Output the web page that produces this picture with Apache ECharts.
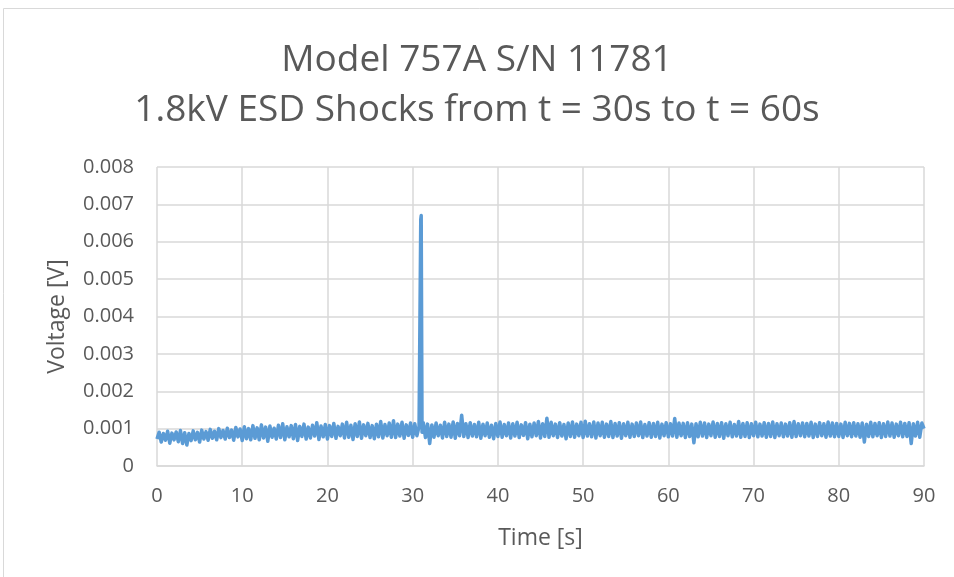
<!DOCTYPE html>
<html>
<head>
<meta charset="utf-8">
<title>Model 757A S/N 11781</title>
<script src="https://cdn.jsdelivr.net/npm/echarts@6/dist/echarts.min.js"></script>
<style>
    html, body {margin: 0; padding: 0; background: #fff;}
    #main {width: 954px; height: 577px;}
</style>
</head>
<body>
<div id="main"></div>
<script>
/* 标题和坐标轴 */
var titleLines = ['Model 757A S/N 11781', '1.8kV ESD Shocks from t = 30s to t = 60s'];
var xName = 'Time [s]';
var yName = 'Voltage [V]';
var xTicks = [0, 10, 20, 30, 40, 50, 60, 70, 80, 90];
var yTicks = [0, 0.001, 0.002, 0.003, 0.004, 0.005, 0.006, 0.007, 0.008];

/* 采样时间 (s)，每行 2 秒 */
var time = [
    0, 0.25, 0.5, 0.75, 1, 1.25, 1.5, 1.75,
    2, 2.25, 2.5, 2.75, 3, 3.25, 3.5, 3.75,
    4, 4.25, 4.5, 4.75, 5, 5.25, 5.5, 5.75,
    6, 6.25, 6.5, 6.75, 7, 7.25, 7.5, 7.75,
    8, 8.25, 8.5, 8.75, 9, 9.25, 9.5, 9.75,
    10, 10.25, 10.5, 10.75, 11, 11.25, 11.5, 11.75,
    12, 12.25, 12.5, 12.75, 13, 13.25, 13.5, 13.75,
    14, 14.25, 14.5, 14.75, 15, 15.25, 15.5, 15.75,
    16, 16.25, 16.5, 16.75, 17, 17.25, 17.5, 17.75,
    18, 18.25, 18.5, 18.75, 19, 19.25, 19.5, 19.75,
    20, 20.25, 20.5, 20.75, 21, 21.25, 21.5, 21.75,
    22, 22.25, 22.5, 22.75, 23, 23.25, 23.5, 23.75,
    24, 24.25, 24.5, 24.75, 25, 25.25, 25.5, 25.75,
    26, 26.25, 26.5, 26.75, 27, 27.25, 27.5, 27.75,
    28, 28.25, 28.5, 28.75, 29, 29.25, 29.5, 29.75,
    30, 30.25, 30.5, 30.75, 30.95, 31, 31.05, 31.1, 31.25, 31.5, 31.75,
    32, 32.25, 32.5, 32.75, 33, 33.25, 33.5, 33.75,
    34, 34.25, 34.5, 34.75, 35, 35.25, 35.5, 35.75,
    36, 36.25, 36.5, 36.75, 37, 37.25, 37.5, 37.75,
    38, 38.25, 38.5, 38.75, 39, 39.25, 39.5, 39.75,
    40, 40.25, 40.5, 40.75, 41, 41.25, 41.5, 41.75,
    42, 42.25, 42.5, 42.75, 43, 43.25, 43.5, 43.75,
    44, 44.25, 44.5, 44.75, 45, 45.25, 45.5, 45.75,
    46, 46.25, 46.5, 46.75, 47, 47.25, 47.5, 47.75,
    48, 48.25, 48.5, 48.75, 49, 49.25, 49.5, 49.75,
    50, 50.25, 50.5, 50.75, 51, 51.25, 51.5, 51.75,
    52, 52.25, 52.5, 52.75, 53, 53.25, 53.5, 53.75,
    54, 54.25, 54.5, 54.75, 55, 55.25, 55.5, 55.75,
    56, 56.25, 56.5, 56.75, 57, 57.25, 57.5, 57.75,
    58, 58.25, 58.5, 58.75, 59, 59.25, 59.5, 59.75,
    60, 60.25, 60.5, 60.75, 61, 61.25, 61.5, 61.75,
    62, 62.25, 62.5, 62.75, 63, 63.25, 63.5, 63.75,
    64, 64.25, 64.5, 64.75, 65, 65.25, 65.5, 65.75,
    66, 66.25, 66.5, 66.75, 67, 67.25, 67.5, 67.75,
    68, 68.25, 68.5, 68.75, 69, 69.25, 69.5, 69.75,
    70, 70.25, 70.5, 70.75, 71, 71.25, 71.5, 71.75,
    72, 72.25, 72.5, 72.75, 73, 73.25, 73.5, 73.75,
    74, 74.25, 74.5, 74.75, 75, 75.25, 75.5, 75.75,
    76, 76.25, 76.5, 76.75, 77, 77.25, 77.5, 77.75,
    78, 78.25, 78.5, 78.75, 79, 79.25, 79.5, 79.75,
    80, 80.25, 80.5, 80.75, 81, 81.25, 81.5, 81.75,
    82, 82.25, 82.5, 82.75, 83, 83.25, 83.5, 83.75,
    84, 84.25, 84.5, 84.75, 85, 85.25, 85.5, 85.75,
    86, 86.25, 86.5, 86.75, 87, 87.25, 87.5, 87.75,
    88, 88.25, 88.5, 88.75, 89, 89.25, 89.5, 89.75,
    90
];

/* 电压读数 (µV)，与 time 逐行对应 */
var voltageUv = [
    720, 905, 640, 870, 690, 930, 610, 880,
    700, 910, 650, 950, 600, 890, 560, 870,
    680, 940, 700, 900, 640, 960, 720, 920,
    690, 980, 740, 930, 700, 1000, 760, 950,
    720, 1010, 760, 960, 690, 1030, 780, 990,
    680, 1050, 730, 1000, 700, 1080, 740, 1020,
    700, 1100, 750, 1040, 660, 1070, 770, 1010,
    720, 1090, 760, 1130, 700, 1050, 780, 1080,
    730, 1110, 680, 1060, 790, 1120, 720, 1040,
    750, 1090, 800, 1160, 710, 1070, 780, 1110,
    720, 1080, 790, 1140, 740, 1060, 810, 1120,
    750, 1170, 770, 1090, 710, 1130, 790, 1180,
    740, 1100, 810, 1140, 760, 1080, 730, 1120,
    780, 1190, 750, 1110, 810, 1150, 770, 1210,
    760, 1120, 800, 1170, 740, 1100, 820, 1150,
    770, 1130, 810, 1060, 6600, 6700, 6650, 900, 1160, 760, 1120,
    600, 1100, 770, 1150, 810, 1090, 750, 1170,
    790, 1120, 770, 1180, 740, 1140, 810, 1360,
    790, 1130, 760, 1160, 800, 1110, 780, 1170,
    740, 1120, 810, 1150, 770, 1090, 730, 1140,
    790, 1180, 770, 1110, 810, 1150, 750, 1130,
    800, 1170, 760, 1100, 820, 1160, 730, 1120,
    780, 1150, 810, 1190, 750, 1130, 790, 1280,
    770, 1170, 810, 1120, 760, 1160, 800, 1110,
    730, 1150, 790, 1180, 770, 1120, 810, 1170,
    760, 1200, 800, 1130, 780, 1180, 750, 1150,
    810, 1170, 770, 1120, 790, 1190, 760, 1140,
    800, 1160, 740, 1130, 810, 1170, 770, 1120,
    790, 1150, 810, 1180, 760, 1110, 800, 1160,
    770, 1140, 790, 1170, 750, 1120, 810, 1160,
    780, 1130, 800, 1270, 770, 1150, 810, 1140,
    760, 1160, 790, 1120, 620, 1130, 780, 1170,
    800, 1150, 760, 1120, 810, 1180, 770, 1140,
    790, 1160, 740, 1130, 810, 1170, 780, 1110,
    800, 1190, 770, 1140, 790, 1160, 760, 1130,
    810, 1170, 780, 1120, 800, 1160, 770, 1140,
    790, 1180, 760, 1130, 810, 1150, 780, 1120,
    800, 1160, 770, 1190, 790, 1130, 810, 1150,
    780, 1140, 800, 1170, 760, 1120, 790, 1160,
    810, 1130, 770, 1180, 800, 1150, 780, 1140,
    790, 1120, 760, 1170, 810, 1140, 780, 1160,
    800, 1130, 770, 1150, 640, 1120, 790, 1170,
    780, 1140, 810, 1160, 760, 1130, 790, 1180,
    800, 1150, 770, 1120, 810, 1170, 780, 1140,
    790, 1160, 600, 1130, 800, 1170, 770, 1150,
    1000
];

var seriesData = time.map(function (t, i) {
    return [t, voltageUv[i] / 1e6];
});

var fontName = 'Open Sans';
var myChart = echarts.init(document.getElementById('main'));

var option = {
    animation: false,
    backgroundColor: '#fff',
    textStyle: {
        fontFamily: fontName
    },
    title: {
        text: titleLines.join('\n'),
        left: 'center',
        top: 30,
        textStyle: {
            color: '#595959',
            fontWeight: 'normal',
            fontSize: 37,
            lineHeight: 50,
            fontFamily: fontName
        }
    },
    graphic: [
        {
            type: 'rect',
            shape: {x: 3.5, y: 8.5, width: 1000, height: 1000},
            style: {fill: 'none', stroke: '#D9D9D9', lineWidth: 1},
            silent: true
        }
    ],
    grid: {
        left: 157,
        right: 30,
        top: 167,
        bottom: 111
    },
    xAxis: {
        type: 'value',
        min: xTicks[0],
        max: xTicks[xTicks.length - 1],
        interval: 10,
        name: xName,
        nameLocation: 'middle',
        nameGap: 61,
        nameTextStyle: {color: '#595959', fontSize: 23},
        axisLine: {show: true, lineStyle: {color: '#D9D9D9', width: 1.5}},
        axisTick: {show: false},
        axisLabel: {color: '#595959', fontSize: 20, margin: 20},
        splitLine: {show: true, lineStyle: {color: '#D9D9D9', width: 1.5}}
    },
    yAxis: {
        type: 'value',
        min: yTicks[0],
        max: yTicks[yTicks.length - 1],
        interval: 0.001,
        name: yName,
        nameLocation: 'middle',
        nameGap: 88,
        nameTextStyle: {color: '#595959', fontSize: 23},
        axisLine: {show: false},
        axisTick: {show: false},
        axisLabel: {
            color: '#595959',
            fontSize: 20,
            margin: 23,
            formatter: function (v) {
                return v === 0 ? '0' : v.toFixed(3);
            }
        },
        splitLine: {show: true, lineStyle: {color: '#D9D9D9', width: 1.5}}
    },
    series: [
        {
            name: yName,
            type: 'line',
            showSymbol: false,
            data: seriesData,
            lineStyle: {color: '#5B9BD5', width: 3.5, join: 'round'},
            itemStyle: {color: '#5B9BD5'}
        }
    ]
};

myChart.setOption(option);
</script>
</body>
</html>
